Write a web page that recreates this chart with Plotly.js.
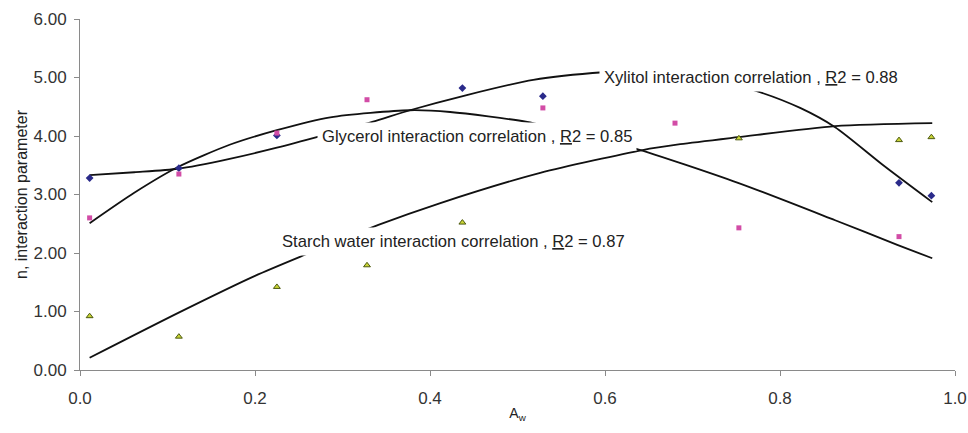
<!DOCTYPE html>
<html>
<head>
<meta charset="utf-8">
<script src="https://cdn.plot.ly/plotly-3.0.1.min.js"></script>
<style>html,body{margin:0;padding:0;background:#fff;}#chart{width:968px;height:433px;}</style>
</head>
<body>
<div id="chart"></div>
<script>
// Measured points (water activity Aw vs interaction parameter n)
const xylitolX = [0.011, 0.113, 0.225, 0.437, 0.529, 0.936, 0.973];
const xylitolN = [3.28, 3.45, 4.01, 4.82, 4.68, 3.20, 2.98];
const glycerolX = [0.011, 0.113, 0.225, 0.328, 0.529, 0.680, 0.753, 0.936];
const glycerolN = [2.60, 3.35, 4.05, 4.62, 4.48, 4.22, 2.43, 2.28];
const starchX = [0.011, 0.113, 0.225, 0.328, 0.437, 0.753, 0.936, 0.973];
const starchN = [0.92, 0.57, 1.42, 1.79, 2.52, 3.96, 3.93, 3.98];

// Correlation curves
const xylitolFitX = [0.011, 0.062, 0.112, 0.171, 0.225, 0.278, 0.334, 0.377, 0.442, 0.518, 0.598, 0.650, 0.710, 0.777, 0.823, 0.863, 0.918, 0.974];
const xylitolFitN = [3.33, 3.38, 3.44, 3.61, 3.80, 4.01, 4.24, 4.44, 4.70, 4.96, 5.09, 5.12, 5.02, 4.75, 4.48, 4.15, 3.50, 2.87];
const glycerolFitX = [0.011, 0.062, 0.112, 0.171, 0.225, 0.286, 0.377, 0.423, 0.511, 0.571, 0.634, 0.752, 0.863, 0.934, 0.974];
const glycerolFitN = [2.51, 3.03, 3.47, 3.85, 4.10, 4.32, 4.44, 4.41, 4.24, 4.03, 3.79, 3.20, 2.56, 2.14, 1.91];
const starchFitX = [0.011, 0.114, 0.200, 0.257, 0.341, 0.411, 0.526, 0.643, 0.686, 0.752, 0.863, 0.974];
const starchFitN = [0.21, 0.99, 1.61, 1.97, 2.48, 2.85, 3.37, 3.76, 3.86, 3.98, 4.17, 4.22];

const labels = [
  'Xylitol interaction correlation , <u>R</u>2 = 0.88',
  'Glycerol interaction correlation , <u>R</u>2 = 0.85',
  'Starch water interaction correlation , <u>R</u>2 = 0.87'
];
const xTitle = 'A<sub>w</sub>';
const yTitle = 'n, interaction parameter';

const FONT = '"Liberation Sans", Arial, sans-serif';
const lineStyle = {color: '#111', width: 1.8, shape: 'spline', smoothing: 0.7};

const traces = [
  {x: xylitolFitX, y: xylitolFitN, mode: 'lines', line: lineStyle, hoverinfo: 'skip'},
  {x: glycerolFitX, y: glycerolFitN, mode: 'lines', line: lineStyle, hoverinfo: 'skip'},
  {x: starchFitX, y: starchFitN, mode: 'lines', line: lineStyle, hoverinfo: 'skip'},
  {x: xylitolX, y: xylitolN, mode: 'markers', name: 'Xylitol',
   marker: {symbol: 'diamond', size: 6, color: '#2a2a8a'}},
  {x: glycerolX, y: glycerolN, mode: 'markers', name: 'Glycerol',
   marker: {symbol: 'square', size: 5, color: '#d24ca6'}},
  {x: starchX, y: starchN, mode: 'markers', name: 'Starch',
   marker: {symbol: 'triangle-up', size: 6, color: '#c9d436', line: {color: '#4d5a10', width: 1}}}
];

const annPos = [[0.593, 5.0], [0.271, 4.0], [0.225, 2.2]];
const annotations = labels.map((t, i) => ({
  text: t, x: annPos[i][0], y: annPos[i][1], xref: 'x', yref: 'y',
  xanchor: 'left', yanchor: 'middle', showarrow: false,
  bgcolor: '#fff', borderpad: 4,
  font: {family: FONT, size: 16.6, color: '#222'}
}));

const axisCommon = {
  showgrid: false, zeroline: false, showline: true, linecolor: '#8a8a8a', linewidth: 1,
  ticks: 'outside', ticklen: 5, tickcolor: '#8a8a8a', tickwidth: 1,
  tickfont: {family: FONT, size: 17, color: '#333'}
};

const layout = {
  width: 968, height: 433,
  margin: {l: 80, r: 13, t: 19, b: 63},
  paper_bgcolor: '#fff', plot_bgcolor: '#fff',
  showlegend: false,
  font: {family: FONT, color: '#222'},
  xaxis: Object.assign({}, axisCommon, {
    range: [0, 1], tick0: 0, dtick: 0.2, tickformat: '.1f',
    ticklabelstandoff: 8,
    title: {text: xTitle, font: {family: FONT, size: 14, color: '#222'}, standoff: 0}
  }),
  yaxis: Object.assign({}, axisCommon, {
    range: [0, 6], tick0: 0, dtick: 1, tickformat: '.2f',
    ticklabelstandoff: 4,
    title: {text: yTitle, font: {family: FONT, size: 16, color: '#222'}, standoff: 1}
  }),
  annotations: annotations
};

Plotly.newPlot('chart', traces, layout, {staticPlot: true, displayModeBar: false});
</script>
</body>
</html>
